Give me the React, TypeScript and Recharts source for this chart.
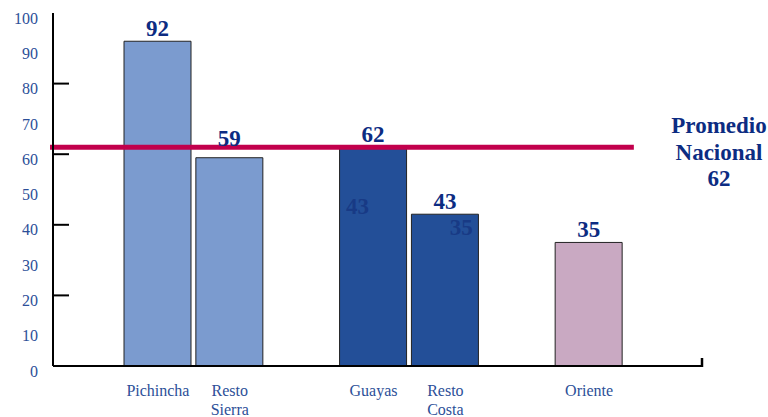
import React from "react";
import { ComposedChart, Bar, Line, XAxis, YAxis, ReferenceLine, LabelList, Cell } from "recharts";

// regions, with blank spacer slots between the groups
const categories = ["Pichincha", "Resto Sierra", "", "Guayas", "Resto Costa", " ", "Oriente"];
const values = [92, 59, null, 62, 43, null, 35];
const innerValues = [null, null, null, 43, 35, null, null];
const yTicks = [0, 10, 20, 30, 40, 50, 60, 70, 80, 90, 100];
const markedTicks = [0, 20, 40, 60, 80];
const AVERAGE = 62;
const averageLabel = ["Promedio", "Nacional", String(AVERAGE)];

const REGION_COLORS: Record<string, string> = {
  Pichincha: "#7b9bcf",
  "Resto Sierra": "#7b9bcf",
  Guayas: "#234f98",
  "Resto Costa": "#234f98",
  Oriente: "#c9a9c2",
};

const data = categories.map((name, i) => ({ name, value: values[i], inner: innerValues[i] }));

const AXIS_X = 53;
const SERIF = "'Liberation Serif', 'Times New Roman', serif";
const TICK_BLUE = "#2c4f98";
const NAVY = "#0c2c82";

const YTick = (props: any) => {
  const { y, payload } = props;
  const v = payload.value;
  return (
    <g>
      <text x={38} y={y + 5} dy="0.35em" textAnchor="end" fill={TICK_BLUE} fontFamily={SERIF} fontSize={16}>
        {v}
      </text>
      {markedTicks.includes(v) && <line x1={AXIS_X} x2={AXIS_X + 16} y1={y} y2={y} stroke="#000" strokeWidth={2} />}
    </g>
  );
};

const XTick = (props: any) => {
  const { x, y, payload } = props;
  const words = String(payload.value).trim().split(" ").filter(Boolean);
  return (
    <text x={x} y={y} textAnchor="middle" fill={TICK_BLUE} fontFamily={SERIF} fontSize={16}>
      {words.map((w, i) => (
        <tspan key={i} x={x} dy={i === 0 ? 22 : 19}>
          {w}
        </tspan>
      ))}
    </text>
  );
};

const TopLabel = (props: any) => {
  const { x, y, width, value } = props;
  if (value == null) return null;
  // a label just under the average line is lifted above it
  const lift = value < AVERAGE && AVERAGE - value < 6 ? 12 : 5;
  return (
    <text x={x + width / 2} y={y - lift} textAnchor="middle" fill={NAVY} fontFamily={SERIF} fontWeight="bold" fontSize={23}>
      {value}
    </text>
  );
};

const InnerLabel = (props: any) => {
  const { x, y, value, index } = props;
  if (value == null) return null;
  const dx = index === 3 ? -16 : 16;
  const dy = index === 3 ? 0 : -7;
  return (
    <text x={x + dx} y={y + dy} textAnchor="middle" fill="#183a85" fontFamily={SERIF} fontWeight="bold" fontSize={23}>
      {value}
    </text>
  );
};

// the average line stops short of the plot's right edge
const AverageLine = (props: any) => {
  const { x1, x2, y1 } = props;
  return <line x1={x1 - 3} x2={x1 + (x2 - x1) * 0.895} y1={y1} y2={y1} stroke="#c2004c" strokeWidth={5} />;
};

// small upward end mark at the right end of the x axis
const AxisEnd = (props: any) => {
  const { x2, y1 } = props;
  return <line x1={x2} x2={x2} y1={y1 - 8} y2={y1 + 1} stroke="#000" strokeWidth={2.5} />;
};

const AverageLabel = (props: any) => {
  const { viewBox } = props;
  const cx = viewBox.x + viewBox.width + 17;
  const cy = viewBox.y;
  return (
    <text textAnchor="middle" fill={NAVY} fontFamily={SERIF} fontWeight="bold" fontSize={23}>
      {averageLabel.map((t, i) => (
        <tspan key={i} x={cx} y={cy - 14 + i * 26.5}>
          {t}
        </tspan>
      ))}
    </text>
  );
};

export default function App() {
  return (
    <div style={{ position: "absolute", left: 0, top: 0, width: 768, height: 417, background: "#fff" }}>
      <ComposedChart width={768} height={417} data={data} margin={{ top: 13, right: 66, bottom: 11, left: 0 }}>
        <XAxis
          dataKey="name"
          padding={{ left: 69, right: 77 }}
          axisLine={{ stroke: "#000", strokeWidth: 2 }}
          tickLine={false}
          tick={<XTick />}
          interval={0}
          height={40}
        />
        <YAxis
          domain={[0, 100]}
          ticks={yTicks}
          interval={0}
          width={53}
          axisLine={{ stroke: "#000", strokeWidth: 2 }}
          tickLine={false}
          tick={<YTick />}
        />
        <Bar dataKey="value" barSize={67} stroke="#222" strokeWidth={1} isAnimationActive={false}>
          {data.map((d, i) => (
            <Cell key={i} fill={REGION_COLORS[d.name] || "transparent"} />
          ))}
          <LabelList dataKey="value" content={<TopLabel />} />
        </Bar>
        <Line dataKey="inner" stroke="none" dot={false} activeDot={false} isAnimationActive={false}>
          <LabelList dataKey="inner" content={<InnerLabel />} />
        </Line>
        <ReferenceLine y={0} shape={<AxisEnd />} />
        <ReferenceLine y={AVERAGE} shape={<AverageLine />} label={<AverageLabel />} />
      </ComposedChart>
    </div>
  );
}
